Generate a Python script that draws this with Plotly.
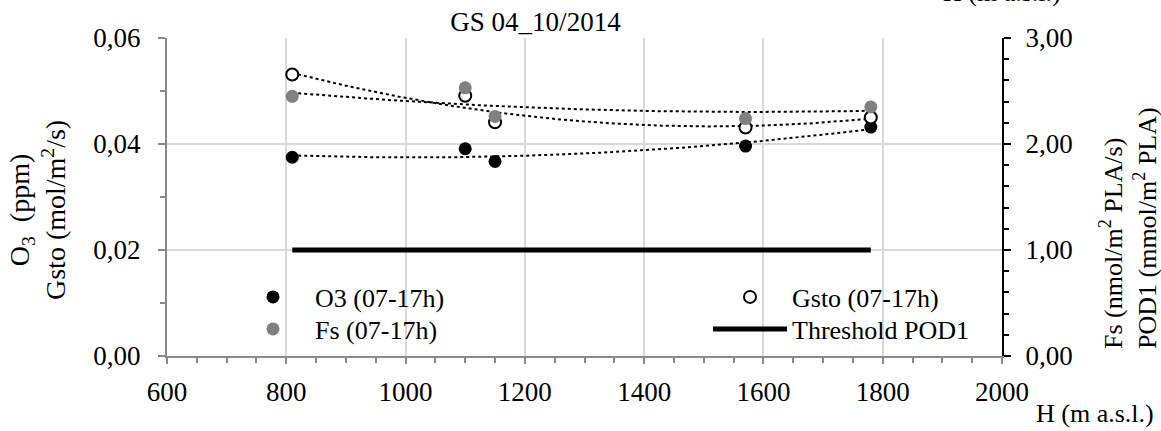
import numpy as np
import plotly.graph_objects as go

# ---- data ----
H = [810, 1100, 1150, 1570, 1780]
O3 = [0.0375, 0.0391, 0.0367, 0.0396, 0.0432]
Gsto = [0.0531, 0.0491, 0.0441, 0.0431, 0.0450]
Fs = [2.45, 2.53, 2.26, 2.24, 2.35]
threshold_H = [810, 1780]
threshold_POD1 = [1.0, 1.0]

x_tickvals = [600, 800, 1000, 1200, 1400, 1600, 1800, 2000]
x_ticktext = ["600", "800", "1000", "1200", "1400", "1600", "1800", "2000"]
y_tickvals = [0.0, 0.02, 0.04, 0.06]
y_ticktext = ["0,00", "0,02", "0,04", "0,06"]
y2_tickvals = [0, 1, 2, 3]
y2_ticktext = ["0,00", "1,00", "2,00", "3,00"]

FONT = "Liberation Serif, Times New Roman, serif"
W, HGT = 1161, 431
ML, MR, MT, MB = 167, 159, 38, 75
PW, PH = W - ML - MR, HGT - MT - MB


def px_x(p):
    return (p - ML) / PW


def px_y(p):
    return 1 - (p - MT) / PH


fig = go.Figure()

# polynomial (order 2) trendlines, as in the spreadsheet chart
hx = np.linspace(min(H), max(H), 200)
for vals, yax in [(O3, "y"), (Gsto, "y"), (Fs, "y2")]:
    c = np.polyfit(H, vals, 2)
    fig.add_trace(go.Scatter(x=hx, y=np.polyval(c, hx), mode="lines", yaxis=yax,
                             line=dict(color="black", width=2, dash="dot"),
                             showlegend=False, hoverinfo="skip"))

fig.add_trace(go.Scatter(x=threshold_H, y=threshold_POD1, mode="lines", yaxis="y2",
                         name="Threshold POD1", legend="legend4",
                         line=dict(color="black", width=5)))
fig.add_trace(go.Scatter(x=H, y=O3, mode="markers", name="O3 (07-17h)", legend="legend",
                         marker=dict(color="black", size=13)))
fig.add_trace(go.Scatter(x=H, y=Fs, mode="markers", name="Fs (07-17h)", yaxis="y2",
                         legend="legend3", marker=dict(color="#808080", size=13)))
fig.add_trace(go.Scatter(x=H, y=Gsto, mode="markers", name="Gsto (07-17h)", legend="legend2",
                         marker=dict(color="white", size=12, line=dict(color="black", width=2))))

axis_gray = "#898989"
grid = "#d9d9d9"


def leg(xpx, ypx):
    return dict(x=px_x(xpx), y=px_y(ypx), xanchor="left", yanchor="middle",
                bgcolor="rgba(0,0,0,0)", itemwidth=74,
                font=dict(family=FONT, size=26, color="black"))


fig.update_layout(
    width=W, height=HGT,
    margin=dict(l=ML, r=MR, t=MT, b=MB),
    paper_bgcolor="white", plot_bgcolor="white",
    font=dict(family=FONT, size=27, color="black"),
    title=dict(text="GS 04_10/2014", x=px_x(535.5), xref="paper", xanchor="center",
               y=1 - 22 / HGT, yref="container", yanchor="middle",
               font=dict(family=FONT, size=27, color="black")),
    xaxis=dict(range=[600, 2000], tickvals=x_tickvals, ticktext=x_ticktext,
               showgrid=True, gridcolor=grid, gridwidth=1.5, zeroline=False,
               showline=True, linecolor=axis_gray, linewidth=2,
               ticks="outside", ticklen=6, tickwidth=2, tickcolor=axis_gray,
               ticklabelstandoff=5,
               minor=dict(dtick=50, ticks="outside", ticklen=5, tickwidth=1.5,
                          tickcolor=axis_gray, showgrid=False)),
    yaxis=dict(range=[0, 0.06], tickvals=y_tickvals, ticktext=y_ticktext,
               showgrid=True, gridcolor=grid, gridwidth=1.5, zeroline=False,
               showline=True, linecolor=axis_gray, linewidth=2,
               ticks="outside", ticklen=7, tickwidth=2, tickcolor=axis_gray,
               ticklabelstandoff=12,
               minor=dict(dtick=0.01, ticks="outside", ticklen=5, tickwidth=1.5,
                          tickcolor=axis_gray, showgrid=False)),
    yaxis2=dict(range=[0, 3], overlaying="y", side="right", tickvals=y2_tickvals,
                ticktext=y2_ticktext, showgrid=False, zeroline=False,
                showline=True, linecolor="black", linewidth=2,
                ticks="outside", ticklen=7, tickwidth=2, tickcolor="black",
                ticklabelstandoff=9,
                minor=dict(dtick=0.2, ticks="outside", ticklen=5, tickwidth=1.5,
                           tickcolor="black", showgrid=False)),
    legend=leg(231, 297),
    legend2=leg(708, 297),
    legend3=leg(231, 329),
    legend4=leg(708, 329),
    showlegend=True,
)

ann = [
    dict(text="O<sub>3</sub>  (ppm)<br>Gsto (mol/m<sup>2</sup>/s)", x=px_x(37), y=px_y(210),
         textangle=-90, align="center", size=28),
    dict(text="Fs (nmol/m<sup>2</sup> PLA/s)<br>POD1 (mmol/m<sup>2</sup> PLA)", x=px_x(1128),
         y=px_y(228), textangle=-90, align="left", size=26),
    dict(text="H (m a.s.l.)", x=px_x(1094.5), y=px_y(413), textangle=0, size=26),
    dict(text="H (m a.s.l.)", x=px_x(1002.5), y=px_y(-7), textangle=0, size=26),
]
for a in ann:
    sz = a.pop("size")
    fig.add_annotation(xref="paper", yref="paper", xanchor="center", yanchor="middle",
                       showarrow=False, font=dict(family=FONT, size=sz, color="black"), **a)

fig.write_html("out.html", config={"displayModeBar": False},
               post_script="document.body.style.margin='0';")
